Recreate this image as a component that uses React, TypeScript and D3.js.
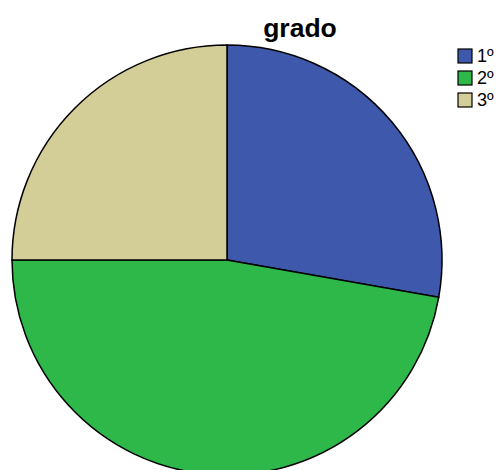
import React from "react";
import * as d3 from "d3";

const categories = ["1º", "2º", "3º"];
const counts = [10, 17, 9];
const colors = ["#3e58ac", "#2eb84a", "#d3cd98"];

export default function App() {
  const W = 502, H = 470;
  const cx = 227, cy = 260, r = 215;
  const pie = d3.pie<number>().sort(null).value(d => d)(counts);
  const arc = d3.arc<d3.PieArcDatum<number>>().innerRadius(0).outerRadius(r);
  return (
    <svg width={W} height={H} style={{ position: "absolute", left: 0, top: 0, background: "#fff" }}>
      <g transform={`translate(${cx},${cy})`}>
        {pie.map((p, i) => (
          <path key={i} d={arc(p) || ""} fill={colors[i]} stroke="#000" strokeWidth={1.5} />
        ))}
      </g>
      <text x={300} y={37} textAnchor="middle" fontFamily="Liberation Sans, Arial, sans-serif" fontWeight="bold" fontSize={26.5}>grado</text>
      {categories.map((c, i) => (
        <g key={c} transform={`translate(458,${49 + i * 22})`}>
          <rect width={14} height={14} fill={colors[i]} stroke="#000" strokeWidth={1.2} />
          <text x={19} y={13} fontFamily="Liberation Sans, Arial, sans-serif" fontSize={18}>{c}</text>
        </g>
      ))}
    </svg>
  );
}
